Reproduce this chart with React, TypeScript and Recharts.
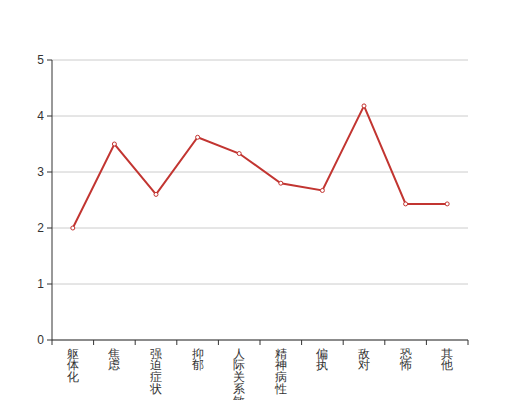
import React from 'react';
import { LineChart, Line, XAxis, YAxis, CartesianGrid } from 'recharts';

const categories = ['躯体化', '焦虑', '强迫症状', '抑郁', '人际关系敏感', '精神病性', '偏执', '敌对', '恐怖', '其他'];
const scores = [2.0, 3.5, 2.6, 3.62, 3.33, 2.8, 2.67, 4.18, 2.43, 2.43];
const yTicks = [0, 1, 2, 3, 4, 5];

const data = categories.map((name, i) => ({ name, value: scores[i] }));

const FONT = 'sans-serif';
const TEXT = '#333';
const PLOT_W = 416;
const BAND = PLOT_W / categories.length;

const XTick = (props: any) => {
  const { x, y, payload, index } = props;
  const count = categories.length;
  const chars = String(payload.value).split('');
  return (
    <g>
      <line x1={x - BAND / 2} x2={x - BAND / 2} y1={y - 5} y2={y} stroke={TEXT} />
      {index === count - 1 && (
        <line x1={x + BAND / 2} x2={x + BAND / 2} y1={y - 5} y2={y} stroke={TEXT} />
      )}
      <text x={x} y={y} textAnchor="middle" fill={TEXT} fontSize={12} fontFamily={FONT}>
        {chars.map((c, i) => (
          <tspan key={i} x={x} dy={i === 0 ? 12.5 : 11.75}>
            {c}
          </tspan>
        ))}
      </text>
    </g>
  );
};

export default function App() {
  return (
    <div style={{ position: 'absolute', left: 0, top: 0, width: 520, height: 400, background: '#fff' }}>
      <LineChart width={520} height={400} data={data} margin={{ top: 60, right: 52, bottom: 0, left: 0 }}>
        <CartesianGrid horizontal vertical={false} stroke="#ccc" />
        <XAxis
          dataKey="name"
          interval={0}
          tickLine={false}
          tickSize={5}
          tickMargin={0}
          height={60}
          padding={{ left: BAND / 2, right: BAND / 2 }}
          axisLine={{ stroke: TEXT }}
          tick={<XTick />}
        />
        <YAxis
          domain={[0, 5]}
          ticks={yTicks}
          width={52}
          tickSize={5}
          tickMargin={3}
          axisLine={{ stroke: TEXT }}
          tickLine={{ stroke: TEXT }}
          tick={{ fill: TEXT, fontSize: 12, fontFamily: FONT }}
        />
        <Line
          type="linear"
          dataKey="value"
          stroke="#c23531"
          strokeWidth={2}
          dot={{ r: 2, fill: '#fff', stroke: '#c23531', strokeWidth: 1 }}
          isAnimationActive={false}
        />
      </LineChart>
    </div>
  );
}
